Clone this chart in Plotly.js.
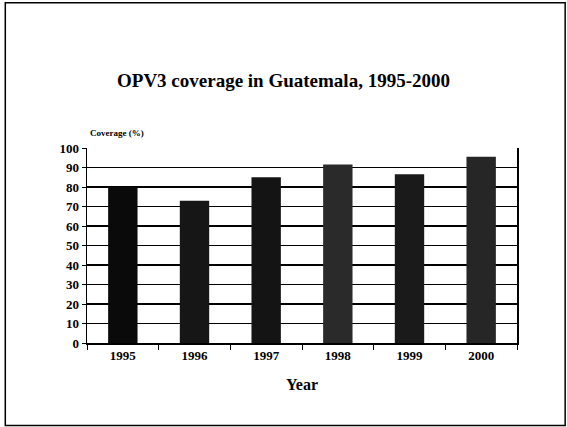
<!DOCTYPE html>
<html>
<head>
<meta charset="utf-8">
<script src="https://cdn.plot.ly/plotly-3.0.1.min.js"></script>
<style>html,body{margin:0;padding:0;background:#fff;}#chart{width:567px;height:427px;}</style>
</head>
<body>
<div id="chart"></div>
<script>
var years = ["1995", "1996", "1997", "1998", "1999", "2000"];
var coverage = [80, 73, 85, 91.5, 86.5, 95.5];
var barColors = ["#0a0a0a", "#161616", "#141414", "#2a2a2a", "#1a1a1a", "#262626"];
var yTicks = [0, 10, 20, 30, 40, 50, 60, 70, 80, 90, 100];

var serif = "Liberation Serif, Times New Roman, serif";

var trace = {
  type: "bar",
  x: years,
  y: coverage,
  marker: {color: barColors, line: {width: 0}},
  hoverinfo: "x+y"
};

var layout = {
  width: 567, height: 427,
  margin: {l: 87, r: 50, t: 148, b: 84, pad: 0},
  paper_bgcolor: "#fff", plot_bgcolor: "#fff",
  showlegend: false,
  bargap: 0.59,
  title: {
    text: "<b>OPV3 coverage in Guatemala, 1995-2000</b>",
    font: {family: serif, size: 19, color: "#000"},
    x: 0.5, xanchor: "center",
    y: 1 - 80/427, yref: "container", yanchor: "middle"
  },
  xaxis: {
    type: "category",
    tickson: "boundaries",
    ticks: "outside", ticklen: 5, tickwidth: 1, tickcolor: "#000",
    showline: true, linecolor: "#000", linewidth: 1.5,
    showgrid: false,
    tickfont: {family: serif, size: 13, color: "#000", weight: "bold"},
    title: {text: "<b>Year</b>", font: {family: serif, size: 16, color: "#000"}, standoff: 16}
  },
  yaxis: {
    range: [0, 100],
    tickvals: yTicks,
    ticks: "outside", ticklen: 4, tickwidth: 1, tickcolor: "#000",
    showline: true, linecolor: "#000", linewidth: 1.5, mirror: true,
    showgrid: true, gridcolor: "#000", gridwidth: 1.8,
    zeroline: false,
    tickfont: {family: serif, size: 13, color: "#000", weight: "bold"}
  },
  annotations: [{
    text: "<b>Coverage (%)</b>",
    xref: "paper", yref: "paper",
    x: 0.003, y: 1.077, xanchor: "left", yanchor: "middle",
    showarrow: false,
    font: {family: serif, size: 9, color: "#000"}
  }],
  shapes: [{
    type: "rect", xref: "paper", yref: "paper",
    x0: -0.19, x1: 1.112, y0: -0.423, y1: 1.745,
    line: {color: "#000", width: 1.5}, fillcolor: "rgba(0,0,0,0)", layer: "below"
  }]
};

Plotly.newPlot("chart", [trace], layout, {displayModeBar: false, staticPlot: true});
</script>
</body>
</html>
